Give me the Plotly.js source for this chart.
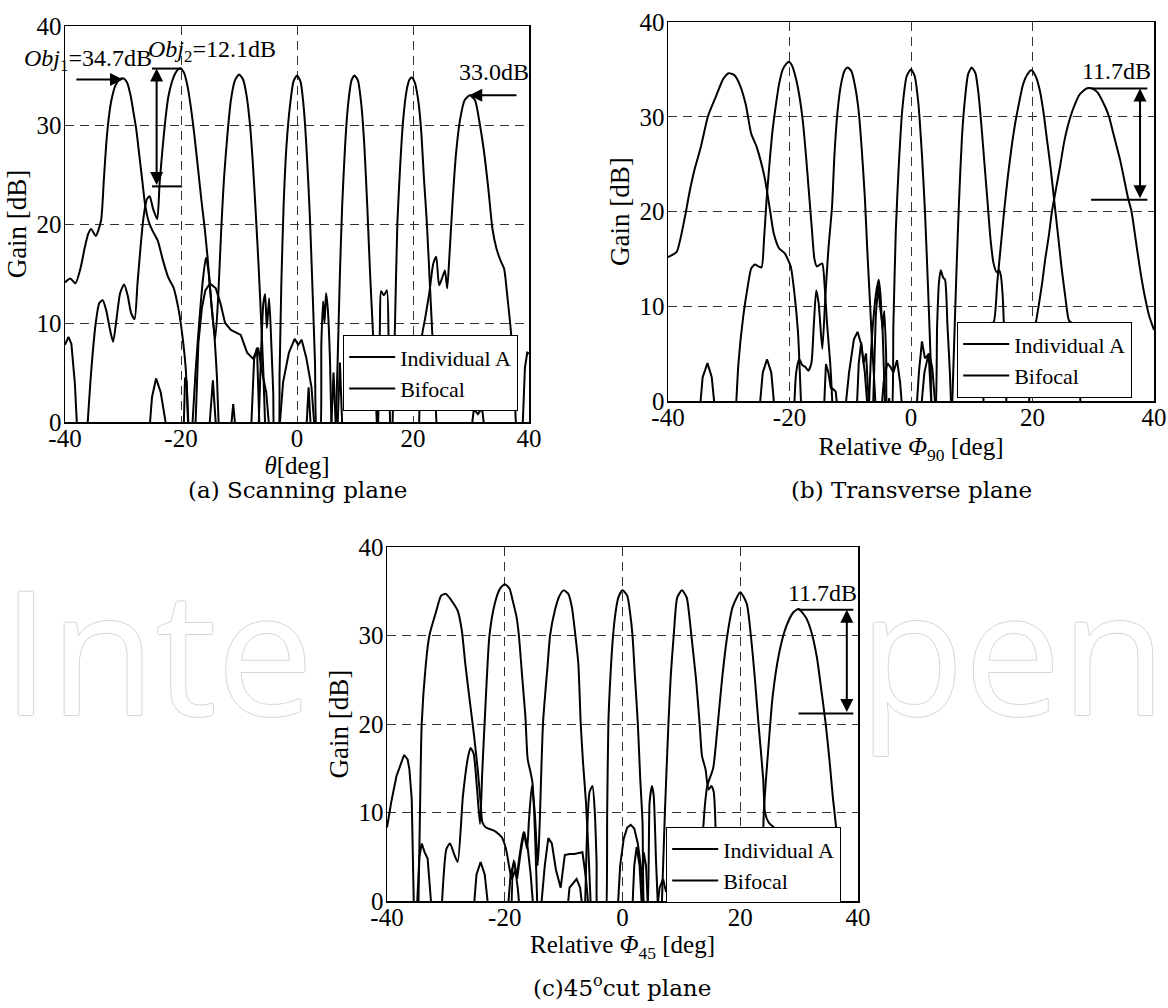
<!DOCTYPE html>
<html>
<head>
<meta charset="utf-8">
<script src="https://cdn.plot.ly/plotly-3.0.1.min.js"></script>
<style>html,body{margin:0;padding:0;background:#fff;}#chart{width:1168px;height:1008px;}</style>
</head>
<body>
<div id="chart"></div>
<script>
// ---------- axis ticks ----------
const xTickVals = [-40, -20, 0, 20, 40];
const xTickText = ['-40', '-20', '0', '20', '40'];
const yTickVals = [0, 10, 20, 30, 40];
const yTickText = ['0', '10', '20', '30', '40'];
const seriesNames = ['Individual A', 'Bifocal'];

// ---------- (a) Scanning plane ----------
const aIndA_x = [-40, -39.1, -38.2, -37.3, -36.6, -36.0, -35.5, -34.7, -33.8, -33.3, -32.9, -32.5, -32.0, -31.3, -30.6, -29.9, -29.3, -28.7, -28.2, -27.7, -27.2, -26.7, -26.2, -25.6, -24.9, -24.0, -23.1, -22.2, -21.3, -20.4, -19.8, -19.2, -18.6];
const aIndA_y = [14.1, 14.5, 14.0, 15.6, 17.6, 19.0, 19.5, 18.8, 20.3, 24.5, 28.0, 30.5, 32.5, 34.0, 34.6, 34.7, 34.3, 33.0, 31.3, 29.5, 27.0, 24.5, 22.0, 20.3, 19.3, 18.3, 16.3, 14.6, 13.6, 11.3, 8.9, 5.5, -2];
const aM20_x = [-36.3, -35.5, -34.7, -34.1, -33.5, -32.9, -32.3, -31.7, -31.1, -30.5, -29.8, -29.2, -28.6, -28.0, -27.5, -27.0, -26.5, -25.9, -25.4, -24.8, -24.1, -23.7, -23.2, -22.7, -22.2, -21.6, -21.0, -20.5, -20.1, -19.5, -18.9, -18.3, -17.7, -17.1, -16.5, -15.9, -15.4, -15.0, -14.6, -14.2, -13.8, -13.4];
const aM20_y = [-2, 5, 10, 12.0, 12.3, 11.3, 9.5, 8.1, 10.5, 13.0, 13.9, 12.8, 11.0, 10.4, 14.0, 17.5, 20.5, 22.5, 22.8, 21.5, 20.5, 24.0, 27.5, 30.5, 32.8, 34.3, 35.2, 35.6, 35.7, 35.3, 34.0, 31.8, 29.0, 25.8, 22.5, 19.5, 16.5, 13.5, 11.0, 8.4, 4.5, -2];
const aM10_x = [-18.2, -17.5, -16.8, -16.2, -15.7, -15.2, -14.7, -14.1, -13.6, -13.1, -12.6, -12.0, -11.4, -10.7, -10.0, -9.3, -8.7, -8.1, -7.6, -7.1, -6.6, -6.2, -5.8, -5.4];
const aM10_y = [-2, 5, 10.5, 14.5, 16.6, 15.0, 11.5, 8.4, 12.5, 19.0, 24.5, 29.0, 32.5, 34.5, 35.1, 34.6, 33.0, 30.0, 26.0, 21.0, 15.5, 10.5, 5.0, -2];
const aP00_x = [-6.7, -6.2, -5.8, -5.5, -5.2, -4.8, -4.4, -4.1, -3.8, -3.3, -3.0, -2.7, -2.3, -1.8, -1.2, -0.6, 0, 0.6, 1.2, 1.7, 2.2, 2.7, 3.1, 3.5, 3.9, 4.2, 4.5, 4.75, 5.0, 5.3, 5.7, 6.0];
const aP00_y = [-2, 7, 12.0, 12.9, 9.5, 12.5, 7.5, 3, -2, -2, 5, 14, 22, 28, 32, 34.4, 35.0, 34.4, 31.5, 27.0, 21, 13, 6, -2, -2, 8, 12.2, 10, 13, 11.5, 6, -2];
const aP10_x = [6.6, 7.0, 7.4, 7.8, 8.3, 8.8, 9.4, 9.9, 10.5, 11.1, 11.6, 12.1, 12.6, 13.1, 13.5, 13.9, 14.1, 14.3, 14.5, 15.0, 15.5, 15.8, 16.1];
const aP10_y = [-2, 6, 15, 22, 28, 32, 34.5, 35.0, 34.5, 32, 28, 22, 15, 9, 4, -2, 3, 10, 13.2, 12.8, 13.3, 8, -2];
const aP20_x = [16.4, 16.9, 17.3, 17.8, 18.3, 18.9, 19.4, 19.8, 20.3, 20.9, 21.4, 21.9, 22.4, 22.9, 23.4, 23.8, 24.2];
const aP20_y = [-2, 10, 20, 26, 30.5, 33.5, 34.6, 34.8, 34.3, 32.5, 29.5, 24.5, 20, 14, 8, 3, -2];
const aP30_x = [21.0, 21.5, 22.1, 22.8, 23.5, 24.0, 24.5, 25.0, 25.5, 25.9, 26.3, 26.8, 27.4, 28.1, 28.9, 29.8, 30.7, 31.4, 32.2, 33.0, 33.7, 34.4, 35.1, 35.7, 36.3, 36.9, 37.4, 37.9];
const aP30_y = [-2, 8.5, 10.5, 13, 16, 16.7, 13.8, 14.5, 15.3, 13.5, 17, 22, 27, 30.5, 32.5, 33.0, 32.5, 30.5, 27.5, 23.5, 19.5, 17.5, 16.3, 15.5, 12.5, 9, 4, -2];
const aSide_x = [-40, -39.4, -38.9, -38.3, -37.8, null, -25.6, -25.0, -24.3, -23.5, -22.1, null, -19.6, -19.3, -19.0, -18.7, null,
  -17.6, -17.0, -16.4, -15.8, -15.0, -14.0, -13.2, -12.4, -11.4, -10.4, -9.7, -8.6, -7.6, -6.7, -6.0, -5.3, -4.6, null,
  -15.3, -14.5, -13.8, null, -11.6, -11.0, -10.4, null, -8.0, -7.4, -6.9, -6.4, null,
  -3.2, -2.4, -1.4, -0.4, 0.2, 0.8, 1.6, 2.5, 3.2, null, 1.5, 2.0, 2.5, null, 5.8, 6.3, 6.8, null, 6.9, 7.4, 7.9, null,
  29.8, 30.5, 31.2, 31.9, 32.6, null, 38.8, 39.3, 39.7, 40];
const aSide_y = [7.8, 8.6, 7.9, 3.9, -2, null, -2, 2.5, 4.4, 3, -2, null, -2, 4.5, 4, -2, null,
  -2, 8, 11.5, 13.3, 14.0, 13.5, 12.0, 10.0, 9.3, 9.0, 8.8, 7.0, 6.4, 7.5, 5, 3, -2, null,
  -2, 4.2, -2, null, -2, 1.8, -2, null, -2, 6.3, 7.5, -2, null,
  -2, 4, 7, 8.4, 7.8, 8.3, 6.5, 3.5, -2, null, -2, 3.5, -2, null, -2, 5, -2, null, -2, 6, -2, null,
  -2, 1.3, 0.8, 1.4, -2, null, -2, 5.5, 7.0, 6.9];

// ---------- (b) Transverse plane ----------
const bIndA_x = [-40, -38.6, -38.0, -37.1, -36.5, -35.6, -34.6, -33.4, -32.2, -30.9, -30.0, -29.1, -28.2, -27.2, -26.3, -25.4, -24.1, -23.2, -22.6, -21.7, -20.8, -19.8, -19.2, -18.6, -18.0];
const bIndA_y = [15.2, 15.7, 17.0, 19.8, 21.9, 24.5, 26.8, 30.1, 32.0, 34.0, 34.6, 34.4, 33.4, 31.3, 28.2, 26.8, 23.6, 20.1, 17.7, 16.1, 15.6, 14.2, 11.4, 7.2, -2];
const bM20_x = [-28.9, -28.4, -27.6, -26.9, -26.3, -25.7, -25.1, -24.6, -24.2, -23.8, -23.3, -22.8, -22.3, -21.7, -21.1, -20.5, -20.1, -19.6, -19.0, -18.4, -17.8, -17.3, -16.8, -16.3, -15.9, -15.5, -15.0, -14.6, -14.2, -13.8, -13.3, -12.8];
const bM20_y = [-2, 4, 9, 12, 14.0, 14.4, 14.2, 14.1, 17, 21, 25, 28.5, 31, 33.5, 35.0, 35.6, 35.8, 35.4, 34.2, 32.3, 29.5, 26, 22, 18, 15, 14.2, 14.4, 14.5, 12, 8, 4, -2];
const bM10_x = [-19.3, -18.9, -18.4, -17.9, -17.4, -16.9, -16.4, -16.0, -15.6, -15.2, -14.6, -14.1, -13.6, -13.0, -12.6, -12.1, -11.5, -10.9, -10.4, -9.8, -9.2, -8.6, -8.1, -7.6, -7.2, -6.8, -6.4, -6.0, -5.7];
const bM10_y = [-2, 3, 4.4, 3.8, 3.6, 3.2, 4, 8, 11.7, 10.3, 5.5, 11, 16, 20.5, 26, 30.5, 33.5, 34.9, 35.2, 34.8, 33.2, 30.5, 26.5, 21.5, 16, 11, 6, 1.5, -2];
const bP00_x = [-7.0, -6.5, -6.0, -5.6, -5.3, -5.0, -4.7, -4.4, -4.1, -3.8, -3.3, -2.9, -2.5, -2.0, -1.4, -0.7, 0, 0.6, 1.2, 1.8, 2.3, 2.8, 3.2, 3.6, 3.9, 4.3, 4.6, 4.9, 5.3, 5.6, 6.0, 6.4, 6.7];
const bP00_y = [-2, 6, 10, 12, 12.8, 11, 7.5, 9.5, 5, -2, -2, 8, 18, 25, 31, 34.3, 35.0, 34.3, 31.5, 26, 20, 12, 5, -2, -2, 8, 12.5, 13.8, 13, 12.8, 8, 3, -2];
const bP10_x = [6.7, 7.1, 7.5, 7.9, 8.4, 8.9, 9.4, 10.0, 10.6, 11.1, 11.6, 12.1, 12.6, 13.1, 13.6, 14.1, 14.5, 14.8, 15.1, 15.4, 15.8];
const bP10_y = [-2, 6, 14, 21, 28, 32, 34.5, 35.2, 34.6, 32.5, 29, 25, 21, 17, 14.5, 13.6, 13.8, 13.2, 11, 6, -2];
const bP20_x = [11.8, 12.4, 13.0, 13.6, 14.2, 14.8, 15.4, 16.0, 16.6, 17.2, 17.8, 18.4, 19.1, 19.8, 20.5, 21.2, 21.8, 22.4, 23.0, 23.6, 24.2, 24.8, 25.4, 26.0, 26.6, 27.2, 27.6, 28.0];
const bP20_y = [-2, 6, 8.2, 8.3, 12.5, 16.5, 20.5, 24, 27, 29.5, 31.5, 33.3, 34.4, 34.9, 34.3, 32.8, 30.5, 27.5, 24.5, 21, 17.5, 14, 11, 8.5, 8.2, 7.8, 4, -2];
const bP30_x = [19.3, 19.9, 20.5, 21.0, 21.6, 22.1, 22.7, 23.2, 23.9, 24.6, 25.2, 25.8, 26.5, 27.1, 27.7, 28.3, 29.0, 29.7, 30.3, 30.8, 31.4, 32.0, 32.6, 33.2, 33.8, 34.4, 34.9, 35.7, 36.3, 37.1, 37.8, 38.5, 39.2, 40];
const bP30_y = [-2, 5, 8, 10, 12.5, 15, 17.5, 20, 22.5, 25, 27.3, 29, 30.5, 31.5, 32.3, 32.7, 33.0, 33.0, 32.8, 32.5, 31.8, 31, 30, 28.5, 27, 25.5, 24, 21.5, 20, 16.5, 13.5, 11, 9, 7.5];
const bSide_x = [-34.9, -34.3, -33.5, -32.8, -32.1, null, -25.1, -24.4, -23.7, -23.0, -22.3, null,
  -14.4, -14.0, -13.6, -13.2, -12.9, -12.4, -11.9, null, -11.0, -10.2, -9.4, -8.8, -8.2, -7.6, -7.0, null,
  -9.0, -8.6, -8.2, -7.8, -7.4, -6.8, null, -6.3, -5.8, -5.4, -5.1, -4.7, -4.2, null,
  -5.0, -4.5, -3.9, -3.4, -2.9, -2.3, -1.8, -1.3, null, -3.8, -3.6, -3.4, null,
  0.8, 1.3, 1.8, 2.3, 3.0, 3.5, 4.2, null, 1.5, 2.2, 2.9, 3.5];
const bSide_y = [-2, 2.5, 4.0, 2.5, -2, null, -2, 3, 4.4, 3, -2, null,
  -2, 3.9, 3.0, 1.4, 1.3, 1.0, -2, null, -2, 3, 6.5, 7.3, 6.0, 3, -2, null,
  -2, 4, 6.2, 4, 5, -2, null, -2, 9, 12.2, 10, 8, -2, null,
  -2, 2, 4.0, 3.6, 3, 4.3, 2, -2, null, -2, 0.3, -2, null,
  -2, 3, 6.3, 4.5, 5, 3.5, -2, null, -2, 3, 5, -2];

// ---------- (c) 45 deg cut plane ----------
const cIndA_x = [-34.7, -34.4, -34.1, -33.4, -32.8, -31.7, -30.8, -30.0, -29.0, -28.0, -27.3, -26.7, -25.9, -25.2, -24.6, -24.1, -23.8, -23.2, -22.0, -21.1, -20.5, -19.8, -19.2, -18.8, -18.3, -17.8, -17.4];
const cIndA_y = [-2, 10, 20.1, 26.8, 30, 32.6, 34.5, 34.7, 33.9, 32.8, 30.6, 26.8, 22.4, 18.6, 14.9, 11.1, 8.9, 8.3, 8.0, 7.6, 7.2, 5.9, 3.7, 2.5, 3.3, 1.5, -2];
const cM20_x = [-30.8, -29.9, -29.3, -28.6, -28.0, -27.1, -26.2, -25.8, -25.3, -24.7, -24.2, -23.8, -23.2, -22.6, -21.7, -20.8, -20.0, -19.2, -18.6, -18.0, -17.6, -17.0, -16.5, -16.1, -15.6, -15.3, -15.0, -14.7, -14.4];
const cM20_y = [-2, 5.9, 6.5, 5.3, 4.4, 11.9, 16.4, 17.3, 16.7, 12.6, 8.7, 14.9, 23.1, 30, 33.6, 35.3, 35.8, 35.3, 33.8, 32.1, 30, 25, 20.9, 16, 14.5, 13.4, 10, 4.4, -2];
const cM10_x = [-18.9, -18.5, -18.0, -17.5, -16.8, -16.2, -15.9, -15.4, -14.9, -14.4, -14.1, -13.5, -12.7, -12.3, -11.5, -10.7, -10.0, -9.2, -8.6, -8.0, -7.5, -7.1, -6.7, -6.2, -5.7, -5.3];
const cM10_y = [-2, 4.6, 2.9, 5, 7.8, 5.9, 9, 13, 10, 4, 8.1, 20.1, 26.8, 30, 32.8, 34.5, 35.1, 34.7, 33.2, 30, 26.8, 20.1, 15.6, 11.1, 4.4, -2];
const cP00_x = [-6.4, -6.0, -5.6, -5.1, -4.7, -4.4, -4.1, -3.0, -2.85, -2.6, -2.4, -2.0, -1.6, -1.2, -0.7, 0, 0.8, 1.3, 1.7, 2.1, 2.6, 3.0, 3.4, 3.8, 4.1, 4.6, 5.0, 5.3, 5.7, 6.1];
const cP00_y = [-2, 8, 12.3, 13.0, 10, 4.4, -2, -2, -2, 10, 20.1, 26, 30, 32.5, 34.3, 35.1, 34.5, 32.5, 30, 25.5, 20.1, 14, 8.9, -2, -2, 11.1, 13, 11.9, 4.4, -2];
const cP10_x = [6.6, 7.2, 7.8, 8.2, 8.7, 9.3, 10.1, 10.9, 11.3, 11.7, 12.5, 13.1, 13.5, 14.1, 14.6, 15.1, 15.5, 15.9, 16.3];
const cP10_y = [-2, 10, 20, 25.5, 30, 34.3, 35.1, 34.3, 32.5, 30, 25, 20, 16.4, 14.9, 12.6, 13, 12.3, 6.3, -2];
const cP20_x = [13.2, 13.7, 14.4, 15.4, 16.1, 16.9, 17.8, 18.7, 20.0, 21.1, 21.8, 22.5, 23.1, 23.9, 24.2, 24.8, 25.4, 26.0, 26.6, 27.3];
const cP20_y = [-2, 8.1, 13, 15, 19.4, 25, 30, 33.2, 34.9, 33.6, 30, 25, 20, 13.8, 10, 8.9, 8.5, 8.1, 4.4, -2];
const cP30_x = [23.7, 24.0, 24.8, 25.5, 26.6, 27.8, 29.0, 29.9, 31.1, 32.0, 33.0, 33.7, 34.5, 35.2, 35.7, 36.3, 36.9];
const cP30_y = [-2, 10, 17.5, 23.1, 28, 31, 32.6, 33.0, 32.1, 30.6, 27.6, 24.2, 20.1, 15.6, 11.9, 8.1, -2];
const cSide_x = [-40, -39.3, -38.4, -37.1, -36.5, -36.2, -35.8, -35.6, -35.4, null,
  -35.0, -34.5, -34.1, -33.6, -33.1, -32.3, null, -25.4, -24.8, -24.1, -23.4, -22.6, null,
  -19.6, -19.0, -18.4, -17.9, -17.3, -16.7, -16.1, -15.6, -15.0, null,
  -14.0, -13.2, -12.6, -12.0, -11.3, -10.5, -9.8, -9.0, -8.2, -7.4, -6.8, -6.2, -5.6, null,
  -9.5, -9.0, -8.4, -7.8, -7.2, -6.6, null,
  -0.9, -0.4, 0.2, 0.8, 1.4, 2.0, 2.6, 3.2, 3.7, null, 1.6, 2.0, 2.4, 2.9, 3.4, null,
  3.2, 3.6, 4.0, 4.4, null, 5.7, 6.3, 6.9, 7.4, null, 30.8, 31.0, 31.2];
const cSide_y = [8.3, 11.1, 14.1, 16.5, 16.0, 14.9, 11.5, 4.4, -2, null,
  -2, 5, 6.5, 5.5, 4.8, -2, null, -2, 3, 4.4, 3, -2, null,
  -2, 3, 4.5, 2.5, 5.5, 7.8, 6, 3, -2, null,
  -2, 4, 7.1, 6.5, 3.5, 1.5, 5.2, 5.3, 5.3, 5.4, 5.5, 2.5, -2, null,
  -2, 1.5, 2.0, 2.5, 1.5, -2, null,
  -2, 4, 7, 8.3, 8.6, 8.2, 6.5, 3.5, -2, null, -2, 4, 6.1, 4, -2, null,
  -2, 5.5, 4, -2, null, -2, 1.5, 2.5, 1, null, -2, 0.4, -2];

// ---------- build traces ----------
const FONT = 'Liberation Serif';
const traces = [];
function addPanel(list, xa, ya, leg) {
  list.forEach((s, i) => {
    const isSide = i === list.length - 1;
    traces.push({
      type: 'scatter', mode: 'lines', x: s[0], y: s[1], xaxis: xa, yaxis: ya,
      name: i === 0 ? seriesNames[0] : seriesNames[1],
      legend: leg, showlegend: i < 2, connectgaps: false,
      line: {color: 'black', width: 2, shape: isSide ? 'linear' : 'spline', smoothing: 0.6}, hoverinfo: 'skip'
    });
  });
}
addPanel([[aIndA_x, aIndA_y], [aM20_x, aM20_y], [aM10_x, aM10_y], [aP00_x, aP00_y], [aP10_x, aP10_y], [aP20_x, aP20_y], [aP30_x, aP30_y], [aSide_x, aSide_y]], 'x', 'y', 'legend');
addPanel([[bIndA_x, bIndA_y], [bM20_x, bM20_y], [bM10_x, bM10_y], [bP00_x, bP00_y], [bP10_x, bP10_y], [bP20_x, bP20_y], [bP30_x, bP30_y], [bSide_x, bSide_y]], 'x2', 'y2', 'legend2');
addPanel([[cIndA_x, cIndA_y], [cM20_x, cM20_y], [cM10_x, cM10_y], [cP00_x, cP00_y], [cP10_x, cP10_y], [cP20_x, cP20_y], [cP30_x, cP30_y], [cSide_x, cSide_y]], 'x3', 'y3', 'legend3');

const W = 1168, H = 1008;
function px(v) { return v / W; }
function py(v) { return 1 - v / H; }

function xAxis(l, r, anchor, title, standoff) {
  return {
    domain: [px(l), px(r)], anchor: anchor, range: [-40, 40], tickmode: 'array',
    tickvals: xTickVals, ticktext: xTickText, showgrid: true, gridcolor: '#333', gridwidth: 1,
    griddash: '9px,6px', zeroline: false, showline: true, mirror: true, linecolor: 'black', linewidth: 1.5,
    ticks: '', ticklabelstandoff: -7, tickfont: {family: FONT, size: 25, color: 'black'},
    title: {text: title, font: {family: FONT, size: 25, color: 'black'}, standoff: standoff}
  };
}
function yAxis(t, b, anchor) {
  return {
    domain: [py(b), py(t)], anchor: anchor, range: [0, 40], tickmode: 'array',
    tickvals: yTickVals, ticktext: yTickText, showgrid: true, gridcolor: '#333', gridwidth: 1,
    griddash: '9px,6px', zeroline: false, showline: true, mirror: true, linecolor: 'black', linewidth: 1.5,
    ticks: '', ticklabelstandoff: -3, tickfont: {family: FONT, size: 25, color: 'black'},
    title: {text: 'Gain [dB]', font: {family: FONT, size: 27, color: 'black'}, standoff: 2}
  };
}
function legendAt(l, t) {
  return {x: px(l), y: py(t), xanchor: 'left', yanchor: 'top', bgcolor: 'white', bordercolor: 'black',
    borderwidth: 1.2, font: {family: FONT, size: 22, color: 'black'}, tracegroupgap: 0, traceorder: 'normal',
    itemwidth: 46};
}

const annFont = {family: FONT, size: 24, color: 'black'};
function txt(xr, yr, x, y, text, extra) {
  return Object.assign({xref: xr, yref: yr, x: x, y: y, text: text, showarrow: false, font: annFont,
    xanchor: 'center', yanchor: 'middle'}, extra || {});
}
function arrow(xr, yr, x, y, ax, ay, both) {
  return {xref: xr, yref: yr, axref: xr, ayref: yr, x: x, y: y, ax: ax, ay: ay, text: '', showarrow: true,
    arrowhead: 2, arrowsize: 1.3, arrowwidth: 2, arrowcolor: 'black', arrowside: both ? 'end+start' : 'end',
    startarrowhead: 2, startarrowsize: 1.3, standoff: 0, startstandoff: 0};
}
function hline(xr, yr, x0, x1, y) {
  return {type: 'line', xref: xr, yref: yr, x0: x0, x1: x1, y0: y, y1: y, line: {color: 'black', width: 2}};
}

const wmFont = {family: 'Open Sans, sans-serif', size: 172, color: 'white',
  shadow: '1px 0 0 #d6d6d6, -1px 0 0 #d6d6d6, 0 1px 0 #d6d6d6, 0 -1px 0 #d6d6d6'};
const capFont = {family: 'DejaVu Serif', size: 23, color: 'black'};

const annotations = [
  {xref: 'paper', yref: 'paper', x: 0, y: py(648), xanchor: 'left', yanchor: 'middle', text: 'Inte', showarrow: false, font: wmFont},
  {xref: 'paper', yref: 'paper', x: 1, y: py(648), xanchor: 'right', yanchor: 'middle', text: 'pen', showarrow: false, font: wmFont},
  // (a)
  txt('x', 'y', -36.0, 36.6, '<i>Obj</i><sub>1</sub>=34.7dB'),
  txt('x', 'y', -14.6, 37.5, '<i>Obj</i><sub>2</sub>=12.1dB'),
  txt('x', 'y', 34.0, 35.4, '33.0dB'),
  arrow('x', 'y', -30.0, 34.6, -38.3, 34.6, false),
  arrow('x', 'y', -24.2, 35.7, -24.2, 23.8, true),
  arrow('x', 'y', 29.7, 33.0, 38.1, 33.0, false),
  // (b)
  txt('x2', 'y2', 33.9, 34.8, '11.7dB'),
  arrow('x2', 'y2', 37.7, 32.97, 37.7, 21.24, true),
  // (c)
  txt('x3', 'y3', 33.9, 34.8, '11.7dB'),
  arrow('x3', 'y3', 38.1, 32.9, 38.1, 21.2, true),
  // captions
  {xref: 'paper', yref: 'paper', x: px(297), y: py(490), xanchor: 'center', yanchor: 'middle', text: '(a) Scanning plane', showarrow: false, font: capFont},
  {xref: 'paper', yref: 'paper', x: px(911), y: py(490), xanchor: 'center', yanchor: 'middle', text: '(b) Transverse plane', showarrow: false, font: capFont},
  {xref: 'paper', yref: 'paper', x: px(622), y: py(986), xanchor: 'center', yanchor: 'middle', text: '(c)45<sup>o</sup>cut plane', showarrow: false, font: capFont}
];

const shapes = [
  hline('x', 'y', -25.0, -19.8, 35.7),
  hline('x', 'y', -25.0, -19.8, 23.8),
  hline('x2', 'y2', 29.65, 38.9, 32.97),
  hline('x2', 'y2', 29.65, 38.9, 21.24),
  hline('x3', 'y3', 29.9, 39.2, 32.9),
  hline('x3', 'y3', 29.9, 39.2, 21.2)
];

const layout = {
  width: W, height: H, margin: {l: 0, r: 0, t: 0, b: 0}, paper_bgcolor: 'white', plot_bgcolor: 'white',
  showlegend: true, hovermode: false,
  xaxis: xAxis(65, 529, 'y', '<i>θ</i>[deg]', 0),
  yaxis: yAxis(26, 422, 'x'),
  xaxis2: xAxis(668, 1154, 'y2', 'Relative <i>Φ</i><sub>90</sub> [deg]', 8),
  yaxis2: yAxis(22, 401, 'x2'),
  xaxis3: xAxis(387, 858, 'y3', 'Relative <i>Φ</i><sub>45</sub> [deg]', 6),
  yaxis3: yAxis(547, 901, 'x3'),
  legend: legendAt(343, 335),
  legend2: legendAt(957, 322),
  legend3: legendAt(666, 827),
  annotations: annotations,
  shapes: shapes
};

Plotly.newPlot('chart', traces, layout, {staticPlot: true, displayModeBar: false});
</script>
</body>
</html>
